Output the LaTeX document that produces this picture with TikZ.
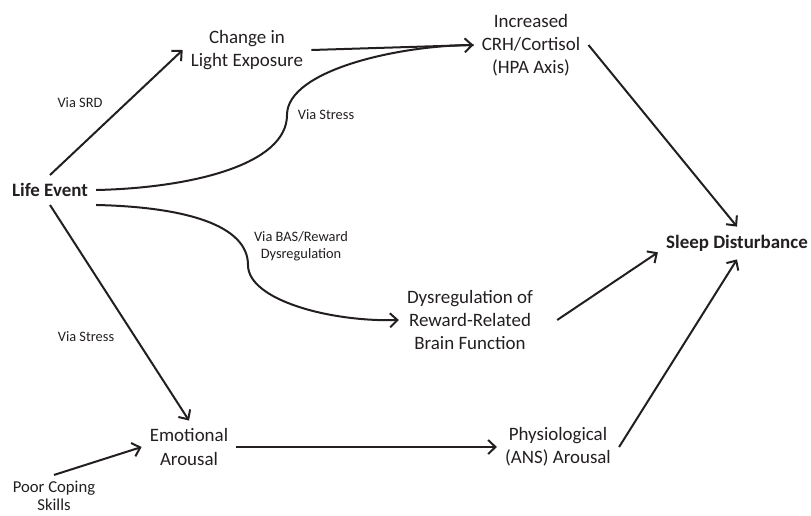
\documentclass[tikz,border=0pt]{standalone}
\usepackage{fontspec}
\setmainfont{Carlito}
\usetikzlibrary{arrows.meta}
\definecolor{ink}{HTML}{231F20}
\begin{document}
\begin{tikzpicture}[x=0.75pt,y=-0.75pt,
  box/.style={align=center,inner sep=6pt,text=ink,font=\fontsize{14.2}{17.3}\selectfont},
  boldbox/.style={box,font=\fontsize{14.2}{17.3}\selectfont\bfseries},
  lab/.style={align=center,inner sep=0pt,text=ink,font=\fontsize{10.8}{12.8}\selectfont},
  poorbox/.style={align=center,inner sep=6pt,text=ink,font=\fontsize{12.5}{13.5}\selectfont},
  conn/.style={draw=ink,line width=1.5pt,-{Straight Barb[length=5.5pt,width=10.5pt]}},
  wire/.style={draw=ink,line width=1.5pt}]
\useasboundingbox (0,0) rectangle (811,515);

\node[boldbox] (life) at (50,190) {Life Event};
\node[box] (change) at (247,50) {Change in\\Light Exposure};
\node[box] (crh) at (531,45) {Increased\\CRH/Cortisol\\(HPA Axis)};
\node[boldbox] (sleep) at (737,243) {Sleep Disturbance};
\node[box] (dys) at (470,320) {Dysregulation of\\Reward-Related\\Brain Function};
\node[box] (emo) at (189,447) {Emotional\\Arousal};
\node[box] (phys) at (558,447) {Physiological\\(ANS) Arousal};
\node[poorbox] (poor) at (54,496) {Poor Coping\\Skills};

\node[lab] (lsrd) at (80,103) {Via SRD};
\node[lab] (lstress1) at (326,115) {Via Stress};
\node[lab] (lbas) at (301,246) {Via BAS/Reward\\Dysregulation};
\node[lab] (lstress2) at (86,337) {Via Stress};

\draw[conn] (life.north) -- (change.west);
\draw[conn] (change.east) -- (crh.west);
\draw[wire] (life.east) .. controls (190,188) and (287,165) .. (287,115)
  .. controls (287,70) and (400,45) .. (crh.west);
\draw[conn] (life.south east) .. controls (185,207) and (248,225) .. (248,265)
  .. controls (248,300) and (330,322) .. (dys.west);
\draw[conn] (life.south) -- (emo.north);
\draw[conn] ([yshift=-1.5pt]poor.north) -- (emo.west);
\draw[conn] (emo.east) -- (phys.west);
\draw[conn] (crh.east) -- (sleep.north);
\draw[conn] ([xshift=12pt]dys.east) -- ([yshift=-7pt]sleep.west);
\draw[conn] (phys.east) -- (sleep.south);
\end{tikzpicture}
\end{document}
